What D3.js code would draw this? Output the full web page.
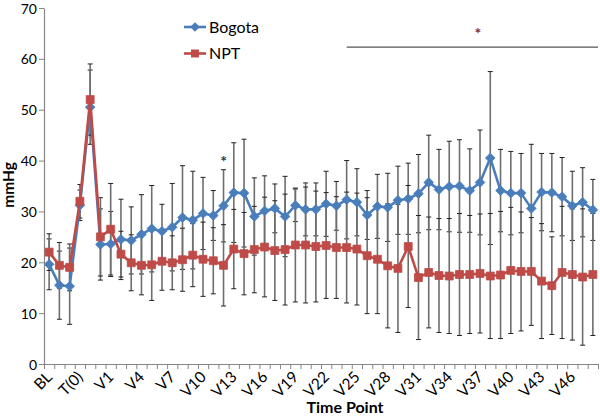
<!DOCTYPE html>
<html><head><meta charset="utf-8">
<script src="https://cdn.jsdelivr.net/npm/d3@7"></script>
<style>
html,body{margin:0;padding:0;background:#fff;}
svg text{font-family:Lato,"Open Sans",sans-serif;}
</style></head>
<body><svg id="c" width="600" height="418"></svg>
<script>
const categories = ["BL","B2","B3","T(0)","T(1)","T(2)"].concat(d3.range(1,49).map(i=>"V"+i));
const tickLabels = ["BL","T(0)","V1","V4","V7","V10","V13","V16","V19","V22","V25","V28","V31","V34","V37","V40","V43","V46"];
const yTicks = [0,10,20,30,40,50,60,70];
const bogota = [19.6,15.5,15.3,31.2,50.5,23.5,23.6,24.5,24.3,25.5,26.6,26.1,26.9,28.8,28.3,29.6,29.2,31.1,33.7,33.6,29.0,30.1,30.6,29.0,31.2,30.4,30.4,31.5,31.1,32.3,31.8,29.3,31.0,30.8,32.2,32.5,33.5,35.7,34.3,34.9,35.0,34.1,35.7,40.5,34.1,33.6,33.6,30.6,33.8,33.7,32.9,31.1,31.8,30.3];
const bogotaSD = [5.0,6.7,7.5,3.0,7.3,7.0,6.4,7.9,6.6,7.8,8.5,5.3,8.6,10.2,9.6,7.1,4.9,7.1,9.8,10.6,7.6,6.9,4.8,7.9,3.2,5.2,5.2,6.4,4.8,7.7,6.6,4.8,6.3,6.7,6.7,7.0,7.7,9.3,7.9,8.9,9.1,8.2,10.3,17.0,8.1,8.2,7.8,12.6,7.6,7.7,7.7,6.8,6.8,6.0];
const npt = [22.0,19.4,19.0,32.0,52.0,25.0,26.5,21.6,19.9,19.4,19.5,20.2,19.9,20.5,21.4,20.6,20.3,19.4,22.6,21.7,22.5,23.0,22.3,22.5,23.4,23.4,23.1,23.3,22.9,22.9,22.6,21.3,20.6,19.3,18.8,23.1,17.0,18.0,17.4,17.3,17.6,17.6,17.8,17.3,17.5,18.4,18.2,18.2,16.3,15.4,18.0,17.6,17.1,17.6];
const nptSD = [3.6,4.5,4.6,3.3,7.0,7.7,9.0,4.5,5.5,5.8,7.0,5.7,5.3,6.2,6.2,7.3,6.5,8.0,7.8,8.1,8.5,9.8,9.8,10.9,11.2,11.4,10.9,10.4,10.0,10.9,11.0,11.4,10.7,12.2,12.6,12.0,12.2,10.9,11.2,11.3,12.0,11.6,11.7,12.3,12.5,12.4,11.7,10.6,11.3,9.6,13.0,12.9,13.4,12.0];
const seriesNames = ["Bogota","NPT"];
const sigPoint = {cat:"V12", value:40.2};
const sigRange = {from:"V24", value:62.3, starCat:"V37", starValue:65.2};

const svg = d3.select("#c");
svg.append("rect").attr("width",600).attr("height",418).attr("fill","#fff");
const L=44, R=598, T=8, B=364;
const x = d3.scaleBand().domain(categories).range([L,R]);
const xi = d3.scaleLinear().domain([0,categories.length]).range([L,R]);
const y = d3.scaleLinear().domain([0,70]).range([B,T]);
const cx = c => x(c)+x.bandwidth()/2;

// axes
const gy = svg.append("g").attr("transform",`translate(${L},0)`)
  .call(d3.axisLeft(y).tickValues(yTicks).tickSize(5).tickSizeOuter(0));
gy.select(".domain").attr("stroke","#868686").attr("stroke-width",1.2);
gy.selectAll(".tick line").attr("stroke","#868686");
gy.selectAll(".tick text").attr("font-size",14).attr("fill","#000").attr("x",-7).attr("dy","0.36em");

const gxt = svg.append("g").attr("transform",`translate(0,${B})`)
  .call(d3.axisBottom(xi).tickValues(d3.range(categories.length+1)).tickFormat("").tickSize(5).tickSizeOuter(0));
gxt.select(".domain").attr("stroke","#868686").attr("stroke-width",1.2);
gxt.selectAll(".tick line").attr("stroke","#868686");

const gx = svg.append("g").attr("transform",`translate(0,${B})`)
  .call(d3.axisBottom(x).tickValues(tickLabels).tickSize(0));
gx.select(".domain").remove();
gx.selectAll(".tick text").attr("font-size",15.5).attr("fill","#000")
  .attr("text-anchor","end").attr("y",0).attr("dy",0)
  .attr("transform","translate(4,14) rotate(-45)");

// error bars
const series = [
  {name:seriesNames[0], v:bogota, sd:bogotaSD, color:"#4a7ebb"},
  {name:seriesNames[1], v:npt, sd:nptSD, color:"#be4b48"}
];
series.forEach(s=>{
  const g = svg.append("g");
  categories.forEach((c,i)=>{
    const lo=y(s.v[i]-s.sd[i]), hi=y(s.v[i]+s.sd[i]), xc=cx(c);
    g.append("line").attr("x1",xc).attr("x2",xc).attr("y1",lo).attr("y2",hi).attr("stroke","#6e6e6e").attr("stroke-width",1.6);
    [lo,hi].forEach(yy=>g.append("line").attr("x1",xc-2.5).attr("x2",xc+2.5).attr("y1",yy).attr("y2",yy).attr("stroke","#222").attr("stroke-width",1));
  });
});
// lines and markers
const line = d3.line().x((d,i)=>cx(categories[i])).y(d=>y(d));
series.forEach((s,k)=>{
  svg.append("path").datum(s.v).attr("d",line).attr("fill","none").attr("stroke",s.color).attr("stroke-width",2.6).attr("stroke-linejoin","round");
  const sym = k===0 ? d3.symbol(d3.symbolDiamond2,60) : d3.symbol(d3.symbolSquare2,80);
  svg.append("g").selectAll("path").data(s.v).join("path")
    .attr("d",sym).attr("transform",(d,i)=>`translate(${cx(categories[i])},${y(d)})`)
    .attr("fill",s.color).attr("stroke",s.color).attr("stroke-width",0.8);
});

// significance
svg.append("text").attr("x",cx(sigPoint.cat)).attr("y",y(sigPoint.value)+7).attr("text-anchor","middle")
  .attr("font-size",16).attr("font-weight","bold").attr("fill","#333").text("*");
svg.append("line").attr("x1",cx(sigRange.from)).attr("x2",R).attr("y1",y(sigRange.value)).attr("y2",y(sigRange.value))
  .attr("stroke","#555").attr("stroke-width",1.2);
svg.append("text").attr("x",cx(sigRange.starCat)-2).attr("y",y(sigRange.starValue)+7).attr("text-anchor","middle")
  .attr("font-size",16).attr("font-weight","bold").attr("fill","#8b2a2a").text("*");

// legend
series.forEach((s,k)=>{
  const ly = 27 + k*26.5;
  svg.append("line").attr("x1",184).attr("x2",206).attr("y1",ly).attr("y2",ly).attr("stroke",s.color).attr("stroke-width",2.6);
  const sym = k===0 ? d3.symbol(d3.symbolDiamond2,60) : d3.symbol(d3.symbolSquare2,80);
  svg.append("path").attr("d",sym).attr("transform",`translate(195,${ly})`).attr("fill",s.color);
  svg.append("text").attr("x",209).attr("y",ly+5.5).attr("font-size",16).attr("fill","#000").text(s.name);
});

// axis titles
svg.append("text").attr("transform","translate(14,185) rotate(-90)").attr("text-anchor","middle")
  .attr("font-size",15.5).attr("font-weight","bold").attr("fill","#000").text("mmHg");
svg.append("text").attr("x",345).attr("y",413).attr("text-anchor","middle")
  .attr("font-size",16).attr("font-weight","bold").attr("fill","#000").text("Time Point");
</script></body></html>
